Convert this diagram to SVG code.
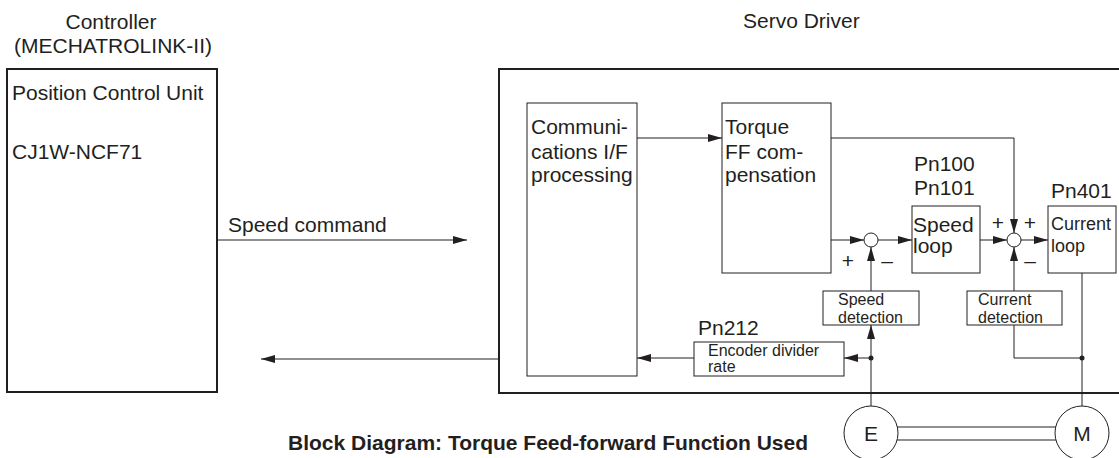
<svg xmlns="http://www.w3.org/2000/svg" width="1119" height="458" viewBox="0 0 1119 458">
<defs>
<marker id="ah" markerUnits="userSpaceOnUse" markerWidth="15" markerHeight="8" refX="14" refY="4" orient="auto">
<path d="M0,0 L14,4 L0,8 Z" fill="#231f20"/>
</marker>
<style>
text{font-family:"Liberation Sans",Arial,sans-serif;fill:#231f20}
.t{font-size:21px}
.s{font-size:16px}
.c{font-size:18px}
.outer{fill:none;stroke:#231f20;stroke-width:2}
.box{fill:#fff;stroke:#231f20;stroke-width:1}
.ln{fill:none;stroke:#231f20;stroke-width:1}
.arr{fill:none;stroke:#231f20;stroke-width:1;marker-end:url(#ah)}
.sum{fill:#fff;stroke:#231f20;stroke-width:1}
</style>
</defs>
<rect width="1119" height="458" fill="#fff"/>

<g id="controller">
<text class="t" x="111" y="29" text-anchor="middle">Controller</text>
<text class="t" x="113" y="53" text-anchor="middle">(MECHATROLINK-II)</text>
<rect class="outer" x="7" y="69" width="210" height="323"/>
<text class="t" x="12" y="100">Position Control Unit</text>
<text class="t" x="12" y="159">CJ1W-NCF71</text>
</g>

<g id="servo-driver">
<text class="t" x="743" y="28">Servo Driver</text>
<path class="outer" d="M1125,69 H499 V393 H1125"/>
</g>

<g id="comm">
<rect class="box" x="527" y="103" width="110" height="273"/>
<text class="t" x="531" y="134">Communi-</text>
<text class="t" x="531" y="159">cations I/F</text>
<text class="t" x="531" y="182">processing</text>
</g>

<g id="torque-ff">
<rect class="box" x="722" y="103" width="109" height="170"/>
<text class="t" x="725" y="134">Torque</text>
<text class="t" x="725" y="159">FF com-</text>
<text class="t" x="725" y="182">pensation</text>
</g>

<g id="speed-loop">
<text class="t" x="914" y="171">Pn100</text>
<text class="t" x="914" y="195">Pn101</text>
<rect class="box" x="912" y="206" width="68" height="67"/>
<text class="t" x="913" y="232">Speed</text>
<text class="t" x="913" y="253">loop</text>
</g>

<g id="current-loop">
<text class="t" x="1051" y="198">Pn401</text>
<rect class="box" x="1048" y="206" width="68" height="67"/>
<text class="c" x="1051" y="230">Current</text>
<text class="c" x="1051" y="252">loop</text>
</g>

<g id="speed-detection">
<rect class="box" x="823" y="291" width="96" height="34"/>
<text class="s" x="838" y="305">Speed</text>
<text class="s" x="838" y="323">detection</text>
</g>

<g id="current-detection">
<rect class="box" x="967" y="291" width="95" height="34"/>
<text class="s" x="978" y="305">Current</text>
<text class="s" x="978" y="323">detection</text>
</g>

<g id="encoder-divider">
<text class="t" x="698" y="335">Pn212</text>
<rect class="box" x="694" y="342" width="150" height="34"/>
<text class="s" x="708" y="356">Encoder divider</text>
<text class="s" x="708" y="372">rate</text>
</g>

<g id="sum1">
<circle class="sum" cx="871" cy="240" r="7"/>
<text class="t" x="848" y="268" text-anchor="middle">+</text>
<text class="t" x="887" y="268" text-anchor="middle">–</text>
</g>

<g id="sum2">
<circle class="sum" cx="1014" cy="240" r="7"/>
<text class="t" x="998" y="230" text-anchor="middle">+</text>
<text class="t" x="1030" y="230" text-anchor="middle">+</text>
<text class="t" x="1030" y="268" text-anchor="middle">–</text>
</g>

<g id="encoder">
<circle class="sum" cx="871" cy="433" r="27"/>
<text class="t" x="871" y="441" text-anchor="middle">E</text>
</g>

<g id="motor">
<circle class="sum" cx="1082" cy="433" r="27"/>
<text class="t" x="1082" y="441" text-anchor="middle">M</text>
</g>

<g id="connectors">
<path class="arr" d="M217,240 H467"/>
<text class="t" x="228" y="232">Speed command</text>
<path class="arr" d="M499,359 H261"/>
<path class="arr" d="M637,138 H722"/>
<path class="arr" d="M831,138 H1014 V233"/>
<path class="arr" d="M831,240 H864"/>
<path class="arr" d="M878,240 H912"/>
<path class="arr" d="M980,240 H1007"/>
<path class="arr" d="M1021,240 H1048"/>
<path class="arr" d="M871,291 V247"/>
<path class="arr" d="M871,406 V325"/>
<path class="arr" d="M871,358 H844"/>
<path class="arr" d="M694,358 H637"/>
<path class="arr" d="M1014,291 V247"/>
<path class="ln" d="M1014,325 V358 H1082"/>
<path class="ln" d="M1082,273 V406"/>
<circle cx="871" cy="358" r="2.5" fill="#231f20"/>
<circle cx="1082" cy="358" r="2.5" fill="#231f20"/>
<path class="ln" d="M897,427 H1056 M897,440 H1056"/>
</g>

<g id="caption">
<text x="288" y="450" font-size="21" font-weight="bold">Block Diagram: Torque Feed-forward Function Used</text>
</g>
</svg>
